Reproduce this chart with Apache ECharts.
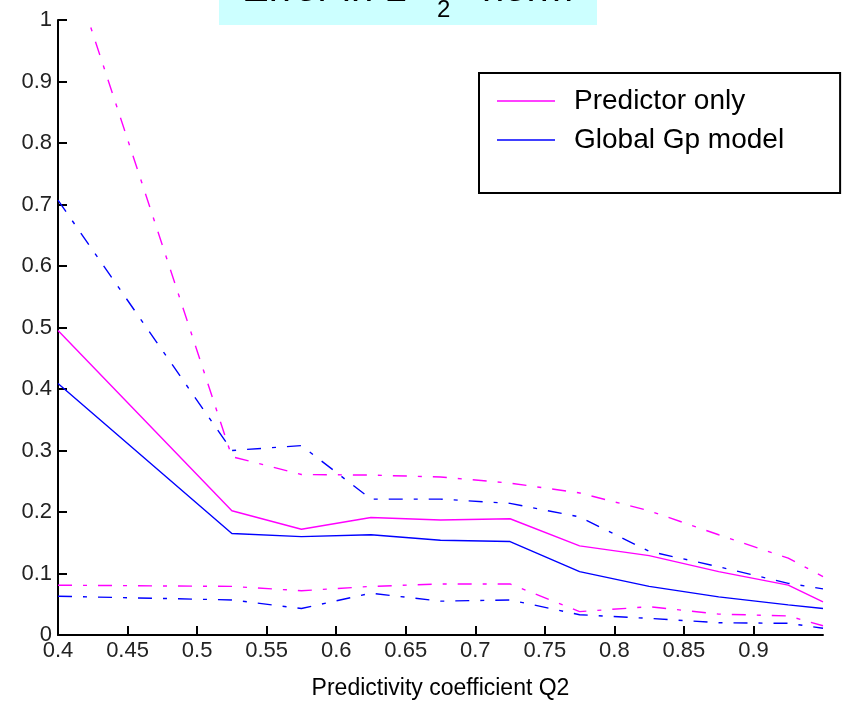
<!DOCTYPE html>
<html>
<head>
<meta charset="utf-8">
<script src="https://cdn.jsdelivr.net/npm/echarts@6/dist/echarts.min.js"></script>
<style>html,body{margin:0;padding:0;background:#fff;}#c{width:843px;height:701px;}</style>
</head>
<body>
<div id="c"></div>
<script>
// Data
const xValues = [0.4, 0.525, 0.575, 0.625, 0.675, 0.725, 0.775, 0.825, 0.875, 0.925, 0.95];
const predictorMean  = [0.495, 0.202, 0.172, 0.191, 0.187, 0.189, 0.145, 0.129, 0.103, 0.081, 0.054];
const predictorUpper = [1.15, 0.29, 0.261, 0.26, 0.257, 0.247, 0.231, 0.202, 0.163, 0.125, 0.095];
const predictorLower = [0.081, 0.079, 0.072, 0.079, 0.083, 0.083, 0.038, 0.046, 0.034, 0.031, 0.015];
const globalMean  = [0.409, 0.165, 0.160, 0.163, 0.154, 0.152, 0.103, 0.079, 0.062, 0.049, 0.043];
const globalUpper = [0.707, 0.30, 0.308, 0.221, 0.221, 0.214, 0.192, 0.136, 0.111, 0.084, 0.075];
const globalLower = [0.063, 0.057, 0.043, 0.068, 0.055, 0.057, 0.033, 0.027, 0.020, 0.019, 0.011];
const xTicks = [0.4, 0.45, 0.5, 0.55, 0.6, 0.65, 0.7, 0.75, 0.8, 0.85, 0.9];
const yTicks = [0, 0.1, 0.2, 0.3, 0.4, 0.5, 0.6, 0.7, 0.8, 0.9, 1];
const seriesNames = ['Predictor only', 'Global Gp model'];
const titleParts = ['Error in L', '2', 'norm'];

const MAGENTA = '#ff00ff';
const BLUE = '#0000ff';
const DASHDOT = [14, 11, 4, 11];
const FONT = '"Liberation Sans", Arial, sans-serif';

function pairs(ys) { return xValues.map((x, i) => [x, ys[i]]); }
function mk(name, ys, color, dash) {
  return {
    name: name, type: 'line', data: pairs(ys), symbol: 'none', showSymbol: false,
    clip: true, silent: true,
    lineStyle: { color: color, width: 1.4, type: dash ? DASHDOT : 'solid' },
    itemStyle: { color: color }
  };
}

const chart = echarts.init(document.getElementById('c'), null, { renderer: 'canvas' });
chart.setOption({
  animation: false,
  backgroundColor: '#ffffff',
  grid: { left: 58, top: 20, width: 765, height: 615, containLabel: false, outerBoundsMode: 'none' },
  xAxis: {
    type: 'value', min: 0.4, max: 0.95,
    name: 'Predictivity coefficient Q2', nameLocation: 'middle', nameGap: 42,
    nameTextStyle: { fontFamily: FONT, fontSize: 23, color: '#000' },
    axisLine: { show: true, lineStyle: { color: '#000', width: 2 } },
    axisTick: { show: true, inside: true, length: 9, lineStyle: { color: '#000', width: 2 }, customValues: xTicks },
    axisLabel: { fontFamily: FONT, fontSize: 22, color: '#222', margin: 5, customValues: xTicks,
      formatter: v => String(+v.toFixed(2)) },
    splitLine: { show: false }
  },
  yAxis: {
    type: 'value', min: 0, max: 1,
    axisLine: { show: true, lineStyle: { color: '#000', width: 2 } },
    axisTick: { show: true, inside: true, length: 9, lineStyle: { color: '#000', width: 2 }, customValues: yTicks },
    axisLabel: { fontFamily: FONT, fontSize: 22, color: '#222', margin: 6, customValues: yTicks,
      formatter: v => String(+v.toFixed(1)) },
    splitLine: { show: false }
  },
  legend: {
    data: seriesNames,
    orient: 'vertical', left: 479, top: 73,
    padding: [14, 56, 39, 18],
    icon: 'path://M0,0 L58,0 L58,1.5 L0,1.5 Z',
    itemWidth: 58, itemHeight: 30, itemGap: 11,
    borderColor: '#000', borderWidth: 2, backgroundColor: '#fff',
    textStyle: { fontFamily: FONT, fontSize: 28, color: '#000', padding: [0, 0, 0, 14] },
    selectedMode: false
  },
  graphic: [
    { type: 'rect', left: 219, top: 0, shape: { width: 378, height: 25 }, style: { fill: '#ccffff' }, silent: true, z: 100 },
    { type: 'text', x: 242, y: -10, style: { text: titleParts[0], font: '40px ' + FONT, fill: '#000', align: 'left', verticalAlign: 'middle' }, z: 101 },
    { type: 'text', x: 437, y: 10, style: { text: titleParts[1], font: '24px ' + FONT, fill: '#000', align: 'left', verticalAlign: 'middle' }, z: 101 },
    { type: 'text', x: 482, y: -10, style: { text: titleParts[2], font: '40px ' + FONT, fill: '#000', align: 'left', verticalAlign: 'middle' }, z: 101 }
  ],
  series: [
    mk(seriesNames[0], predictorMean, MAGENTA, false),
    mk(seriesNames[1], globalMean, BLUE, false),
    mk(seriesNames[0] + ' upper', predictorUpper, MAGENTA, true),
    mk(seriesNames[0] + ' lower', predictorLower, MAGENTA, true),
    mk(seriesNames[1] + ' upper', globalUpper, BLUE, true),
    mk(seriesNames[1] + ' lower', globalLower, BLUE, true)
  ]
});
</script>
</body>
</html>
